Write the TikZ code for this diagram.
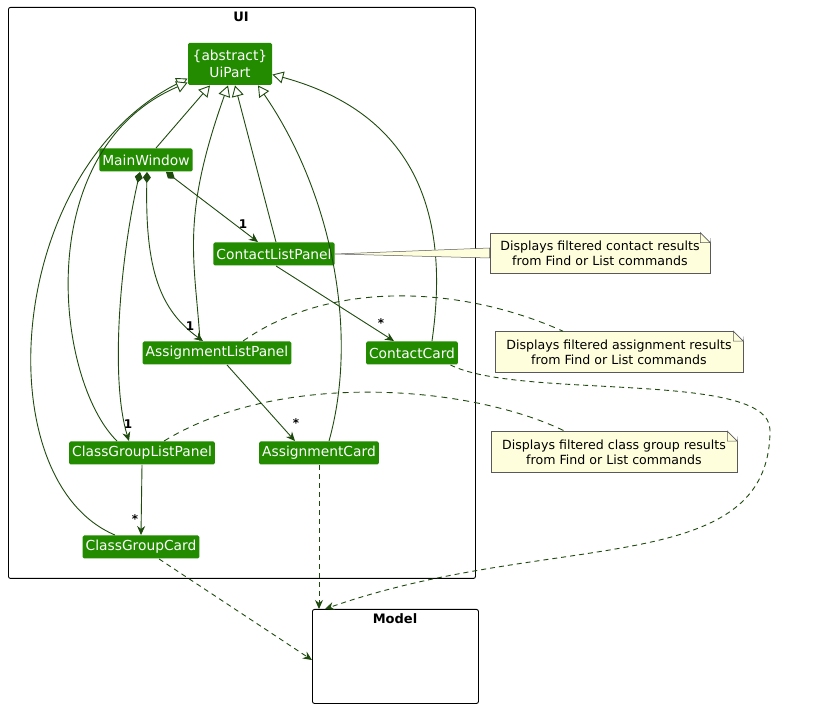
\documentclass[tikz,border=0pt]{standalone}
\usepackage{fontspec}
\setmainfont{DejaVu Sans}
\usetikzlibrary{arrows.meta}
\definecolor{cls}{HTML}{228B00}
\definecolor{ln}{HTML}{1E4A0E}
\definecolor{notef}{HTML}{FEFEDD}
\begin{document}
\begin{tikzpicture}[x=1pt,y=-1pt,line width=0.9pt,
 cls/.style={fill=cls,text=white,rounded corners=1.5pt,font=\fontsize{13.8}{16.5}\selectfont,inner xsep=3pt,inner ysep=0pt,minimum height=23pt},
 note/.style={draw=gray!70!black,fill=notef,font=\fontsize{12.6}{15}\selectfont,align=center,inner sep=0pt},
 gen/.style={draw=ln,-{Triangle[open,fill=white,length=11pt,width=12pt]}},
 comp/.style={draw=ln,{Diamond[fill=ln,length=11pt,width=8pt]}-{Stealth[length=9pt,width=8pt]}},
 nav/.style={draw=ln,-{Stealth[length=9pt,width=8pt]}},
 dep/.style={draw=ln,dash pattern=on 5pt off 4pt,-{Stealth[length=9pt,width=8pt]}},
 nl/.style={draw=ln,dash pattern=on 6pt off 5pt},
 lab/.style={font=\fontsize{12}{13}\selectfont\bfseries,inner sep=1pt}]
\useasboundingbox (0,0) rectangle (839,708);
\node[draw,rounded corners=2pt,minimum width=467pt,minimum height=571pt,anchor=north west] (ui) at (8,7) {};
\node[font=\fontsize{13}{15}\selectfont\bfseries] (uil) at (241,17) {UI};
\node[draw,rounded corners=2pt,minimum width=166pt,minimum height=94pt,anchor=north west] (model) at (312,609) {};
\node[font=\fontsize{13}{15}\selectfont\bfseries] (ml) at (395,619) {Model};

\node[cls,align=center,minimum width=84pt,minimum height=42pt] (uip) at (230,64) {\{abstract\}\\UiPart};
\node[cls] (mw) at (146,160) {MainWindow};
\node[cls] (clp) at (274,254) {ContactListPanel};
\node[cls] (alp) at (217,353) {AssignmentListPanel};
\node[cls] (cc) at (412,353) {ContactCard};
\node[cls] (cglp) at (142,453) {ClassGroupListPanel};
\node[cls] (ac) at (319,453) {AssignmentCard};
\node[cls] (cgc) at (141,547) {ClassGroupCard};

\begin{scope}[line width=0.6pt]
\node[note,minimum width=220pt,minimum height=40pt] (n1) at (600,253) {Displays filtered contact results\\from Find or List commands};
\node[note,minimum width=248pt,minimum height=41pt] (n2) at (619,352) {Displays filtered assignment results\\from Find or List commands};
\node[note,minimum width=246pt,minimum height=41pt] (n3) at (614,452) {Displays filtered class group results\\from Find or List commands};
\foreach \n in {n1,n2,n3}{
\fill[white] ([xshift=-10pt]\n.north east) -- ([yshift=-10pt]\n.north east) -- ([yshift=1pt,xshift=1pt]\n.north east) -- cycle;
\draw[gray!70!black] ([xshift=-10pt]\n.north east) -- ([xshift=-10pt,yshift=-10pt]\n.north east) -- ([yshift=-10pt]\n.north east) -- cycle;}
\end{scope}

% generalizations
\draw[gen] ([xshift=-26pt]cgc.north) .. controls (-15,480) and (5,170) .. ([yshift=-36pt]uip.north west);
\draw[gen] ([xshift=-25pt]cglp.north) .. controls (55,380) and (30,150) .. ([yshift=-40pt]uip.north west);
\draw[gen] ([xshift=10pt]mw.north) -- ([xshift=-20pt]uip.south);
\draw[gen] ([xshift=-17pt]alp.north) .. controls (195,260) and (180,220) .. ([xshift=-2pt]uip.south);
\draw[gen] ([xshift=2pt]clp.north) -- ([xshift=5pt]uip.south);
\draw[gen] ([xshift=10pt]ac.north) .. controls (360,330) and (330,190) .. ([xshift=28pt]uip.south);
\draw[gen] ([xshift=20pt]cc.north) .. controls (445,250) and (440,120) .. ([yshift=-32pt]uip.north east);

% compositions
\draw[comp] ([xshift=-6pt]mw.south) .. controls (120,260) and (110,380) .. ([xshift=-13pt]cglp.north);
\draw[comp] ([xshift=1pt]mw.south) .. controls (145,270) and (160,310) .. ([xshift=-14pt]alp.north);
\draw[comp] ([xshift=20pt]mw.south) -- ([xshift=-16pt]clp.north);
\node[lab] (l1) at (243,224) {1};
\node[lab] (l2) at (190,326) {1};
\node[lab] (l3) at (128,424) {1};

\draw[nav] ([xshift=2pt]clp.south) -- ([xshift=-18pt]cc.north);
\draw[nav] ([xshift=10pt]alp.south) -- ([xshift=-24pt]ac.north);
\draw[nav] (cglp.south) -- (cgc.north);
\node[lab] (s1) at (381,323) {*};
\node[lab] (s2) at (296,423) {*};
\node[lab] (s3) at (135,519) {*};

% dependencies
\draw[dep] ([xshift=-8pt]cc.south east) .. controls (520,400) and (770,370) .. (770,430) .. controls (770,580) and (550,530) .. ([xshift=13pt]model.north west);
\draw[dep] (ac.south) -- (ac.south|-model.north);
\draw[dep] ([xshift=18pt]cgc.south) -- ([yshift=-51pt]model.north west);

% note links
\draw[gray!70!black,line width=0.5pt,fill=notef] (clp.east) -- ([yshift=-5pt]n1.west) -- ([yshift=5pt]n1.west) -- cycle;
\draw[nl] ([xshift=26pt]alp.north) .. controls (330,280) and (460,285) .. ([xshift=-56pt]n2.north);
\draw[nl] ([xshift=22pt]cglp.north) .. controls (280,370) and (470,385) .. ([xshift=-49pt]n3.north);
\end{tikzpicture}
\end{document}
